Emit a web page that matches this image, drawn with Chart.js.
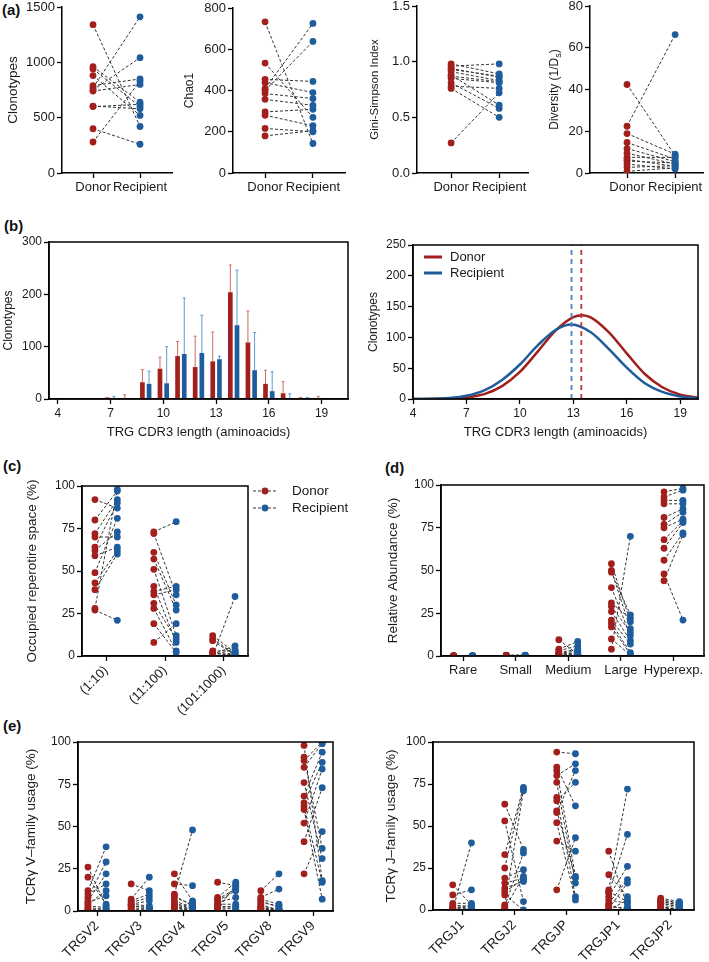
<!DOCTYPE html>
<html>
<head>
<meta charset="utf-8">
<script src="https://cdn.jsdelivr.net/npm/chart.js@4.4.1/dist/chart.umd.min.js"></script>
<style>
  body { margin: 0; background: #fff; width: 709px; height: 962px; position: relative; overflow: hidden;
         font-family: 'Liberation Sans', Arial, sans-serif; }
  canvas { position: absolute; }
  .lbl { position: absolute; font-weight: bold; font-size: 15px; color: #111; }
</style>
</head>
<body>
<div class="lbl" style="left:2px;top:1px">(a)</div>
<div class="lbl" style="left:4px;top:217px">(b)</div>
<div class="lbl" style="left:3px;top:457px">(c)</div>
<div class="lbl" style="left:385px;top:459px">(d)</div>
<div class="lbl" style="left:3px;top:717px">(e)</div>

<canvas id="a1"></canvas>
<canvas id="a2"></canvas>
<canvas id="a3"></canvas>
<canvas id="a4"></canvas>
<canvas id="b1"></canvas>
<canvas id="b2"></canvas>
<canvas id="c1"></canvas>
<canvas id="d1"></canvas>
<canvas id="e1"></canvas>
<canvas id="e2"></canvas>

<script>
// ---- data ----
// (a) donor / recipient, one value per pair
const clonoDonor = [1340, 960, 940, 880, 790, 770, 750, 740, 600, 605, 400, 280];
const clonoRecip = [420, 640, 600, 520, 850, 1411, 1042, 800, 620, 580, 260, 830];
const chaoDonor = [733, 533, 454, 438, 409, 400, 385, 357, 296, 280, 216, 180];
const chaoRecip = [143, 270, 444, 390, 725, 638, 361, 328, 309, 229, 200, 205];
const giniDonor = [0.98, 0.96, 0.94, 0.93, 0.91, 0.88, 0.87, 0.85, 0.81, 0.78, 0.76, 0.27];
const giniRecip = [0.89, 0.98, 0.86, 0.87, 0.83, 0.61, 0.82, 0.81, 0.58, 0.76, 0.50, 0.72];
const divDonor = [42.4, 22.4, 18.9, 14.6, 11.7, 9.5, 7.5, 6.5, 5.7, 4.3, 2.7, 0.8];
const divRecip = [8.3, 66.3, 9.0, 6.7, 5.4, 4.3, 7.5, 3.2, 4.8, 1.9, 3.5, 2.5];

// (b) CDR3 length distribution
const cdr3Lengths = [4, 5, 6, 7, 8, 9, 10, 11, 12, 13, 14, 15, 16, 17, 18, 19, 20];
const cdr3TickLabels = [4, 7, 10, 13, 16, 19];
const barDonor      = [0, 0, 0, 3, 0, 32, 58, 82, 61, 72, 204, 108, 29, 11, 2, 1, 0];
const barDonorUpper = [0, 0, 0, 3, 8, 56, 80, 110, 120, 128, 256, 168, 55, 33, 3, 5, 0];
const barRecip      = [0, 0, 2, 2, 0, 29, 30, 86, 88, 76, 141, 55, 15, 2, 2, 0, 0];
const barRecipUpper = [0, 0, 2, 5, 0, 53, 100, 193, 160, 82, 246, 127, 52, 10, 3, 0, 0];

const donorCurveX = [4, 5, 6, 7, 8, 9, 10, 11, 12, 13, 13.5, 14, 15, 16, 17, 18, 19, 20];
const donorCurveY = [0, 0.2, 0.7, 2.7, 8, 21, 44, 77, 111, 133, 136, 132, 108, 74, 41, 19, 7, 2.4];
const recipCurveX = [4, 5, 6, 7, 8, 9, 10, 11, 12, 12.9, 14, 15, 16, 17, 18, 19, 20];
const recipCurveY = [0.1, 0.4, 1.6, 5.2, 14, 31, 56, 87, 112, 121, 108, 81, 51, 26, 11.5, 4.2, 1.3];
const donorMeanLength = 13.45;
const recipMeanLength = 12.9;

// (c) occupied repertoire space
const spaceCats = ['(1:10)', '(11:100)', '(101:1000)'];
const spaceDonor = [
  [92, 80, 72, 70, 64, 62, 59, 49, 43, 39, 28, 27],
  [73, 72, 61, 57, 51, 41, 38, 36, 31, 28, 19, 8],
  [12, 10, 9, 3, 2, 1, 0.5, 0, 0, 0, 0, 0]];
const spaceRecip = [
  [87, 97, 92, 70, 90, 73, 64, 81, 62, 60, 98, 21],
  [79, 36, 30, 27, 12, 8, 41, 39, 10, 3, 2, 19],
  [2, 1, 0.5, 3, 0.5, 6, 4, 2, 35, 1, 0, 0]];

// (d) relative abundance
const abundCats = ['Rare', 'Small', 'Medium', 'Large', 'Hyperexp.'];
const abundDonor = [
  [0, 0, 0, 0, 0, 0, 0, 0, 0, 0, 0, 0],
  [0.5, 0.4, 0.3, 0.3, 0.2, 0.2, 0.2, 0.1, 0.1, 0.1, 0.1, 0.1],
  [9.5, 4, 3, 2, 1.5, 1, 1, 0.5, 0.5, 0.3, 0.2, 0.1],
  [54, 50, 49, 40, 31, 29, 26, 21, 19, 17, 10, 4],
  [96, 93, 91, 89, 81, 77, 75, 68, 63, 56, 48, 44]];
const abundRecip = [
  [0, 0, 0, 0, 0, 0, 0, 0, 0, 0, 0, 0],
  [0.5, 0.4, 0.3, 0.3, 0.2, 0.2, 0.2, 0.1, 0.1, 0.1, 0.1, 0.1],
  [1, 8.5, 6, 4, 3, 2, 1.5, 1, 0.5, 0.5, 0.3, 0.2],
  [20, 16, 24, 12, 22, 14, 9, 7, 2, 1, 0.5, 70],
  [98, 97, 91, 89, 86, 84, 80, 79, 78, 72, 21, 71]];

// (e) V and J family usage
const vCats = ['TRGV2', 'TRGV3', 'TRGV4', 'TRGV5', 'TRGV8', 'TRGV9'];
const vDonor = [
  [26, 20, 12, 10, 8, 6, 5, 4, 3, 2, 1, 0.5],
  [16, 7, 6, 5, 4, 3, 2, 1, 0.5, 0, 3, 4],
  [22, 16, 10, 8, 6, 5, 3, 2, 1, 0, 9, 4],
  [17, 8, 7, 6, 5, 4, 3, 2, 1, 0.5, 3, 2],
  [12, 8, 7, 5, 3, 2, 1, 0, 6, 4, 2, 1],
  [98, 91, 89, 85, 76, 68, 64, 62, 52, 41, 22, 60]];
const vRecip = [
  [3, 4, 38, 16, 29, 22, 9, 12, 2, 1, 0.5, 0],
  [12, 20, 10, 8, 6, 2, 1, 0, 0.5, 1, 2, 3],
  [6, 15, 48, 4, 2, 1, 0, 0.5, 5, 2, 3, 1],
  [15, 17, 13, 12, 8, 4, 2, 1, 0, 16, 14, 3],
  [22, 13, 4, 3, 1, 0, 0.5, 1, 2, 0, 0.5, 0],
  [18, 37, 100, 99, 31, 94, 88, 17, 84, 73, 47, 7]];

const jCats = ['TRGJ1', 'TRGJ2', 'TRGJP', 'TRGJP1', 'TRGJP2'];
const jDonor = [
  [15, 9, 4, 3, 1, 0.5, 0, 0, 1, 2, 0.5, 0],
  [63, 53, 33, 25, 19, 16, 13, 9, 3, 2, 1, 11],
  [94, 85, 83, 80, 76, 67, 65, 59, 58, 52, 41, 12],
  [35, 21, 12, 10, 8, 4, 1, 0, 6, 3, 2, 11],
  [7, 6, 5, 4, 3, 2, 1, 0, 5, 4, 6, 2]];
const jRecip = [
  [3, 12, 4, 2, 1, 0, 0.5, 40, 3, 1, 0, 0.5],
  [36, 5, 73, 72, 24, 19, 17, 0, 71, 34, 20, 18],
  [93, 62, 20, 87, 16, 8, 76, 19, 83, 6, 35, 43],
  [2, 8, 72, 45, 26, 18, 16, 6, 4, 0, 1, 5],
  [5, 4, 3, 2, 1, 0, 0.5, 1, 3, 2, 4, 0]];

// ---- styling ----
const RED = '#a11f1c';
const BLUE = '#1f5c9c';
const INK = '#1a1a1a';
Chart.defaults.font.family = "'Liberation Sans', Arial, sans-serif";
Chart.defaults.font.size = 12;
Chart.defaults.color = INK;
Chart.defaults.animation = false;

// box around the plot area
const frame = {
  id: 'frame',
  afterDraw(c) {
    const a = c.chartArea, ctx = c.ctx;
    ctx.save();
    ctx.strokeStyle = '#000';
    ctx.lineWidth = 1.5;
    ctx.strokeRect(a.left, a.top, a.right - a.left, a.bottom - a.top);
    ctx.restore();
  }
};

// places the canvas so the plot area lands on box (page coords)
function makeChart(id, s) {
  const cv = document.getElementById(id);
  const left = s.yTitleX - 10, top = s.box.t - 12;
  const padR = s.padR || 5;
  cv.width = s.box.r + padR - left;
  cv.height = s.xBottom - top;
  cv.style.left = left + 'px';
  cv.style.top = top + 'px';
  const yW = s.box.l - left, xH = s.xBottom - s.box.b;
  const yTitleSize = s.yTitleSize || 13;

  return new Chart(cv, {
    type: s.type,
    data: s.data,
    options: {
      responsive: false,
      animation: false,
      layout: { padding: { top: 12, right: padR, left: 0, bottom: 0 } },
      plugins: { legend: { display: false }, tooltip: { enabled: false } },
      scales: {
        x: Object.assign({
          afterFit: sc => { sc.height = xH; },
          grid: { drawOnChartArea: false, drawTicks: true, tickLength: 5, tickWidth: 1.3,
                  tickColor: s.xTickColor || '#000', offset: false },
          border: { display: true, color: '#000', width: 1.5 },
          ticks: { autoSkip: false, maxRotation: s.rot || 0, minRotation: s.rot || 0, padding: 2,
                   color: INK, font: { size: s.xFont || 12 }, callback: s.xCb },
          title: s.xTitle ? { display: true, text: s.xTitle, color: INK, font: { size: 13 },
                              padding: { top: 0, bottom: 2 } } : { display: false }
        }, s.x),
        y: Object.assign({
          afterFit: sc => { sc.width = yW; },
          grid: { drawOnChartArea: false, drawTicks: true, tickLength: 5, tickWidth: 1.3, tickColor: '#000' },
          border: { display: true, color: '#000', width: 1.5 },
          ticks: { padding: 2, color: INK, font: { size: s.yFont || 12 }, stepSize: s.yStep, callback: s.yCb },
          title: s.yTitle ? { display: true, text: s.yTitle, color: INK, font: { size: yTitleSize },
                              padding: { top: 10 - yTitleSize * 0.6, bottom: 0 } } : { display: false }
        }, s.y)
      }
    },
    plugins: s.plugins || []
  });
}

// donor dots, recipient dots and the dashed pair lines
function pairDatasets(donor, recip, off, shift) {
  const d = [], r = [], lines = [];
  donor.forEach((vals, ci) => {
    const x0 = ci + shift - off, x1 = ci + shift + off;
    vals.forEach((v, i) => {
      const w = recip[ci][i];
      d.push({ x: x0, y: v });
      r.push({ x: x1, y: w });
      lines.push({ x: x0, y: v }, { x: x1, y: w }, { x: x1, y: null });
    });
  });
  const dot = (data, col) => ({ type: 'scatter', data, backgroundColor: col, borderColor: col,
                                pointRadius: 3.4, borderWidth: 0 });
  return [
    dot(d, RED), dot(r, BLUE),
    { type: 'line', data: lines, borderColor: '#333', borderWidth: 1, borderDash: [3, 2],
      pointRadius: 0, spanGaps: false, fill: false, tension: 0 }
  ];
}

function pairChart(id, s) {
  return makeChart(id, Object.assign({
    type: 'scatter',
    data: { datasets: pairDatasets(s.donor, s.recip, s.off, s.shift || 0) },
    x: { type: 'linear', min: s.xMin, max: s.xMax,
         afterBuildTicks: sc => { sc.ticks = s.tickVals.map(v => ({ value: v })); } },
    y: { type: 'linear', min: 0, max: s.yMax },
    xCb: (v, i) => s.tickLabels[i]
  }, s));
}

// ---- (a) ----
const aTicks = { tickVals: [0, 1], tickLabels: ['Donor', 'Recipient'], off: 0.5, shift: 0.5,
                 xFont: 13, yFont: 13, xBottom: 200 };
pairChart('a1', Object.assign({}, aTicks, {
  box: { l: 62, t: 7, r: 172, b: 173 }, yTitleX: 13, yTitle: 'Clonotypes', yTitleSize: 13.5,
  donor: [clonoDonor], recip: [clonoRecip], xMin: -0.66, xMax: 1.68, yMax: 1500, yStep: 500 }));
pairChart('a2', Object.assign({}, aTicks, {
  box: { l: 233, t: 8, r: 345, b: 173 }, yTitleX: 190, yTitle: 'Chao1', yTitleSize: 12,
  donor: [chaoDonor], recip: [chaoRecip], xMin: -0.67, xMax: 1.67, yMax: 800, yStep: 200 }));
pairChart('a3', Object.assign({}, aTicks, {
  box: { l: 417, t: 6, r: 528, b: 173 }, yTitleX: 375, yTitle: 'Gini-Simpson Index', yTitleSize: 11.5,
  donor: [giniDonor], recip: [giniRecip], xMin: -0.71, xMax: 1.6, yMax: 1.5, yStep: 0.5,
  yCb: v => v.toFixed(1) }));

// y title with subscript for the diversity panel
const divTitle = {
  id: 'divTitle',
  afterDraw(c) {
    const ctx = c.ctx, a = c.chartArea;
    ctx.save();
    ctx.translate(10, (a.top + a.bottom) / 2);
    ctx.rotate(-Math.PI / 2);
    ctx.fillStyle = INK;
    ctx.textBaseline = 'middle';
    const big = "12px 'Liberation Sans', Arial, sans-serif";
    const small = "9px 'Liberation Sans', Arial, sans-serif";
    ctx.font = big;
    const w1 = ctx.measureText('Diversity (1/D').width, w3 = ctx.measureText(')').width;
    ctx.font = small;
    const w2 = ctx.measureText('s').width;
    let x = -(w1 + w2 + w3) / 2;
    ctx.font = big; ctx.fillText('Diversity (1/D', x, 0); x += w1;
    ctx.font = small; ctx.fillText('s', x, 4); x += w2;
    ctx.font = big; ctx.fillText(')', x, 0);
    ctx.restore();
  }
};
pairChart('a4', Object.assign({}, aTicks, {
  box: { l: 590, t: 6, r: 703, b: 173 }, yTitleX: 555, padR: 4,
  donor: [divDonor], recip: [divRecip], xMin: -0.77, xMax: 1.58, yMax: 80, yStep: 20,
  plugins: [divTitle] }));

// ---- (b) left: bars with upper error bars ----
const errorBars = {
  id: 'errorBars',
  afterDatasetsDraw(c) {
    const ctx = c.ctx, y = c.scales.y;
    [[0, barDonorUpper, '#cf6e63'], [1, barRecipUpper, '#5f9bd4']].forEach(([di, up, col]) => {
      const meta = c.getDatasetMeta(di);
      meta.data.forEach((el, i) => {
        const val = c.data.datasets[di].data[i];
        if (up[i] <= val) return;
        const yt = y.getPixelForValue(up[i]);
        ctx.save();
        ctx.strokeStyle = col;
        ctx.lineWidth = 1;
        ctx.beginPath();
        ctx.moveTo(el.x, el.y);
        ctx.lineTo(el.x, yt);
        ctx.moveTo(el.x - 1.5, yt);
        ctx.lineTo(el.x + 1.5, yt);
        ctx.stroke();
        ctx.restore();
      });
    });
  }
};
makeChart('b1', {
  type: 'bar',
  box: { l: 49, t: 242, r: 348, b: 399 }, yTitleX: 9, xBottom: 442, padR: 6,
  data: {
    labels: cdr3Lengths,
    datasets: [
      { data: barDonor, backgroundColor: RED, barPercentage: 0.7, categoryPercentage: 0.76 },
      { data: barRecip, backgroundColor: BLUE, barPercentage: 0.7, categoryPercentage: 0.76 }
    ]
  },
  x: { type: 'category', offset: true },
  xCb: (v, i) => cdr3TickLabels.includes(cdr3Lengths[i]) ? String(cdr3Lengths[i]) : '',
  xTickColor: c => (c.tick && c.tick.label !== '') ? '#000' : 'rgba(0,0,0,0)',
  xTitle: 'TRG CDR3 length (aminoacids)',
  y: { type: 'linear', min: 0, max: 300 }, yStep: 100,
  yTitle: 'Clonotypes', yTitleSize: 12,
  plugins: [errorBars, frame]
});

// ---- (b) right: fitted distributions ----
const curveLegend = {
  id: 'curveLegend',
  afterDraw(c) {
    const ctx = c.ctx, a = c.chartArea;
    ctx.save();
    ctx.font = "13px 'Liberation Sans', Arial, sans-serif";
    ctx.textBaseline = 'middle';
    [['Donor', RED, 12], ['Recipient', BLUE, 28]].forEach(([t, col, dy]) => {
      ctx.strokeStyle = col; ctx.lineWidth = 3;
      ctx.beginPath(); ctx.moveTo(a.left + 11, a.top + dy); ctx.lineTo(a.left + 29, a.top + dy); ctx.stroke();
      ctx.fillStyle = INK;
      ctx.fillText(t, a.left + 37, a.top + dy);
    });
    ctx.restore();
  }
};
const toXY = (xs, ys) => xs.map((x, i) => ({ x, y: ys[i] }));
makeChart('b2', {
  type: 'line',
  box: { l: 413, t: 245, r: 698, b: 399 }, yTitleX: 374, xBottom: 442, padR: 6,
  data: {
    datasets: [
      { data: [{ x: recipMeanLength, y: 0 }, { x: recipMeanLength, y: 250 }], borderColor: '#4a86c6',
        borderWidth: 1.8, borderDash: [5, 4], pointRadius: 0 },
      { data: [{ x: donorMeanLength, y: 0 }, { x: donorMeanLength, y: 250 }], borderColor: '#bb3c38',
        borderWidth: 1.8, borderDash: [5, 4], pointRadius: 0 },
      { data: toXY(recipCurveX, recipCurveY), borderColor: BLUE, borderWidth: 2.5, pointRadius: 0,
        cubicInterpolationMode: 'monotone' },
      { data: toXY(donorCurveX, donorCurveY), borderColor: RED, borderWidth: 2.5, pointRadius: 0,
        cubicInterpolationMode: 'monotone' }
    ]
  },
  x: { type: 'linear', min: 4, max: 20,
       afterBuildTicks: sc => { sc.ticks = cdr3TickLabels.map(v => ({ value: v })); } },
  xTitle: 'TRG CDR3 length (aminoacids)',
  y: { type: 'linear', min: 0, max: 250 }, yStep: 50,
  yTitle: 'Clonotypes', yTitleSize: 12,
  plugins: [frame, curveLegend]
});

// ---- (c) ----
const pairLegend = {
  id: 'pairLegend',
  afterDraw(c) {
    const ctx = c.ctx, a = c.chartArea;
    ctx.save();
    ctx.font = "13.5px 'Liberation Sans', Arial, sans-serif";
    ctx.textBaseline = 'middle';
    [['Donor', RED, 5], ['Recipient', BLUE, 22]].forEach(([t, col, dy]) => {
      const y = a.top + dy;
      ctx.strokeStyle = '#333'; ctx.lineWidth = 1; ctx.setLineDash([3, 2]);
      ctx.beginPath(); ctx.moveTo(a.right + 5, y); ctx.lineTo(a.right + 30, y); ctx.stroke();
      ctx.setLineDash([]);
      ctx.fillStyle = col;
      ctx.beginPath(); ctx.arc(a.right + 17, y, 3.4, 0, Math.PI * 2); ctx.fill();
      ctx.fillStyle = INK;
      ctx.fillText(t, a.right + 44, y);
    });
    ctx.restore();
  }
};
pairChart('c1', {
  box: { l: 82, t: 486, r: 248, b: 656 }, yTitleX: 32, xBottom: 728, padR: 110,
  donor: spaceDonor, recip: spaceRecip, off: 0.19,
  tickVals: [0, 1, 2], tickLabels: spaceCats, xMin: -0.41, xMax: 2.41, rot: 45, xFont: 13,
  yMax: 100, yStep: 25, yTitle: 'Occupied reperotire space (%)', yTitleSize: 13.5,
  plugins: [frame, pairLegend]
});

// ---- (d) ----
pairChart('d1', {
  box: { l: 441, t: 485, r: 705, b: 656 }, yTitleX: 393, xBottom: 690, padR: 3,
  donor: abundDonor, recip: abundRecip, off: 0.18,
  tickVals: [0, 1, 2, 3, 4], tickLabels: abundCats, xMin: -0.42, xMax: 4.58, xFont: 13,
  yMax: 100, yStep: 25, yTitle: 'Relative Abundance (%)', yTitleSize: 13.5,
  plugins: [frame]
});

// ---- (e) ----
pairChart('e1', {
  box: { l: 78, t: 742, r: 333, b: 911 }, yTitleX: 31, xBottom: 962, padR: 5,
  donor: vDonor, recip: vRecip, off: 0.21,
  tickVals: [0, 1, 2, 3, 4, 5], tickLabels: vCats, xMin: -0.44, xMax: 5.46, rot: 45, xFont: 13.5,
  yMax: 100, yStep: 25, yTitle: 'TCR\u03b3 V\u2013family usage (%)', yTitleSize: 13.5,
  plugins: [frame]
});
pairChart('e2', {
  box: { l: 433, t: 742, r: 694, b: 910 }, yTitleX: 391, xBottom: 962, padR: 5,
  donor: jDonor, recip: jRecip, off: 0.18,
  tickVals: [0, 1, 2, 3, 4], tickLabels: jCats, xMin: -0.56, xMax: 4.46, rot: 45, xFont: 13.5,
  yMax: 100, yStep: 25, yTitle: 'TCR\u03b3 J\u2013family usage (%)', yTitleSize: 13.5,
  plugins: [frame]
});
</script>
</body>
</html>
